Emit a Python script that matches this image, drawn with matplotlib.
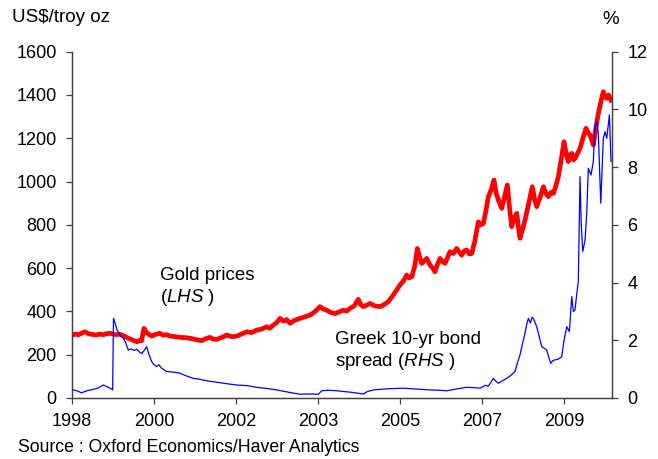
import matplotlib
matplotlib.use("Agg")
import matplotlib.pyplot as plt

plt.rcParams["font.family"] = ["Liberation Sans", "DejaVu Sans"]
plt.rcParams["mathtext.fontset"] = "custom"
plt.rcParams["mathtext.rm"] = "Liberation Sans"
plt.rcParams["mathtext.it"] = "Liberation Sans:italic"

# x positions are in tick units (0 = first labelled tick, 1 = next, ...)
tick_labels = ["1998", "2000", "2002", "2003", "2005", "2007", "2009"]

# Gold price, US$/troy oz (left axis)
gold_x = [0.000, 0.040, 0.080, 0.120, 0.159, 0.200, 0.240, 0.301, 0.340, 0.380,
          0.420, 0.463, 0.520, 0.585, 0.630, 0.687, 0.740, 0.789, 0.830, 0.850,
          0.866, 0.878, 0.900, 0.918, 0.945, 0.972, 1.020, 1.073, 1.110, 1.150,
          1.195, 1.250, 1.317, 1.380, 1.439, 1.510, 1.582, 1.630, 1.683, 1.720,
          1.765, 1.830, 1.887, 1.950, 2.009, 2.070, 2.130, 2.190, 2.252, 2.310,
          2.374, 2.410, 2.455, 2.500, 2.537, 2.580, 2.620, 2.659, 2.720, 2.780,
          2.840, 2.902, 2.960, 3.024, 3.060, 3.106, 3.150, 3.207, 3.260, 3.309,
          3.350, 3.390, 3.440, 3.491, 3.520, 3.552, 3.600, 3.634, 3.690, 3.756,
          3.800, 3.857, 3.918, 3.960, 4.000, 4.040, 4.082, 4.110, 4.143, 4.180,
          4.211, 4.240, 4.265, 4.300, 4.326, 4.366, 4.400, 4.427, 4.460, 4.488,
          4.520, 4.549, 4.580, 4.610, 4.650, 4.691, 4.720, 4.752, 4.780, 4.813,
          4.845, 4.874, 4.910, 4.955, 4.985, 5.016, 5.045, 5.077, 5.110, 5.146,
          5.170, 5.199, 5.220, 5.240, 5.275, 5.309, 5.335, 5.362, 5.390, 5.423,
          5.443, 5.463, 5.495, 5.524, 5.570, 5.613, 5.640, 5.667, 5.710, 5.748,
          5.780, 5.809, 5.840, 5.870, 5.900, 5.930, 5.965, 6.000, 6.025, 6.052,
          6.075, 6.094, 6.115, 6.134, 6.165, 6.195, 6.230, 6.268, 6.295, 6.317,
          6.340, 6.357, 6.390, 6.418, 6.450, 6.479, 6.500, 6.521, 6.545, 6.573]
gold_y = [288, 296, 292, 300, 306, 297, 294, 291, 296, 292,
          297, 299, 293, 294, 288, 276, 268, 260, 266, 265,
          300, 322, 308, 299, 292, 286, 294, 299, 290, 293,
          286, 284, 280, 279, 276, 270, 265, 274, 280, 272,
          271, 280, 291, 283, 286, 296, 306, 302, 314, 318,
          329, 322, 337, 350, 368, 355, 362, 345, 360, 368,
          375, 383, 398, 422, 412, 406, 396, 390, 398, 406,
          402, 414, 425, 456, 432, 422, 430, 437, 426, 422,
          430, 445, 476, 500, 522, 540, 568, 555, 560, 610,
          691, 650, 622, 635, 645, 614, 600, 583, 620, 645,
          630, 622, 650, 676, 668, 691, 675, 660, 678, 684,
          665, 668, 720, 814, 800, 806, 860, 930, 960, 1007,
          950, 915, 895, 876, 930, 984, 880, 791, 830, 853,
          790, 738, 780, 822, 900, 976, 920, 884, 930, 976,
          945, 930, 950, 945, 980, 1022, 1100, 1184, 1130, 1092,
          1125, 1130, 1100, 1107, 1130, 1153, 1200, 1246, 1225, 1215,
          1190, 1169, 1250, 1315, 1370, 1415, 1395, 1384, 1400, 1376]

# Greek 10-yr bond spread, % (right axis)
spread_x = [0.000, 0.016, 0.060, 0.118, 0.180, 0.260, 0.320, 0.382, 0.420, 0.460,
            0.496, 0.506, 0.530, 0.550, 0.565, 0.590, 0.626, 0.650, 0.687, 0.720,
            0.760, 0.789, 0.820, 0.850, 0.880, 0.911, 0.940, 0.972, 1.000, 1.033,
            1.060, 1.094, 1.120, 1.155, 1.230, 1.317, 1.400, 1.479, 1.540, 1.601,
            1.700, 1.805, 1.900, 2.009, 2.130, 2.252, 2.380, 2.496, 2.640, 2.780,
            2.900, 3.004, 3.045, 3.130, 3.228, 3.400, 3.552, 3.600, 3.674, 3.850,
            4.040, 4.200, 4.366, 4.470, 4.570, 4.700, 4.813, 4.900, 4.976, 5.040,
            5.077, 5.110, 5.138, 5.170, 5.199, 5.250, 5.301, 5.350, 5.402, 5.430,
            5.463, 5.495, 5.524, 5.545, 5.565, 5.590, 5.610, 5.626, 5.667, 5.700,
            5.728, 5.760, 5.789, 5.815, 5.838, 5.865, 5.890, 5.930, 5.972, 6.000,
            6.033, 6.065, 6.094, 6.114, 6.134, 6.155, 6.174, 6.195, 6.210, 6.228,
            6.256, 6.277, 6.296, 6.329, 6.357, 6.378, 6.399, 6.418, 6.448, 6.479,
            6.500, 6.521, 6.553, 6.573]
spread_y = [0.30, 0.28, 0.25, 0.18, 0.25, 0.30, 0.35, 0.45, 0.40, 0.35,
            0.28, 2.76, 2.55, 2.35, 2.30, 2.15, 2.07, 1.95, 1.66, 1.70,
            1.65, 1.69, 1.60, 1.54, 1.65, 1.78, 1.50, 1.26, 1.15, 1.09,
            1.15, 1.03, 0.98, 0.92, 0.90, 0.86, 0.76, 0.68, 0.66, 0.62,
            0.57, 0.53, 0.49, 0.45, 0.43, 0.37, 0.33, 0.28, 0.20, 0.13,
            0.14, 0.13, 0.25, 0.27, 0.25, 0.20, 0.14, 0.22, 0.28, 0.32,
            0.34, 0.31, 0.28, 0.27, 0.25, 0.32, 0.37, 0.36, 0.34, 0.44,
            0.41, 0.55, 0.68, 0.58, 0.51, 0.60, 0.68, 0.78, 0.92, 1.20,
            1.49, 1.90, 2.24, 2.55, 2.76, 2.60, 2.80, 2.76, 2.47, 2.10,
            1.78, 1.72, 1.66, 1.40, 1.20, 1.30, 1.32, 1.35, 1.43, 2.00,
            2.47, 2.30, 3.51, 3.00, 3.05, 3.60, 4.03, 7.67, 6.00, 5.07,
            5.47, 6.40, 7.96, 7.73, 8.19, 9.46, 9.57, 9.17, 6.75, 9.00,
            9.23, 9.00, 9.81, 8.19]

fig = plt.figure(figsize=(6.58, 4.59), dpi=100)
ax = fig.add_axes([0.1094, 0.1329, 0.8207, 0.7545])
ax2 = ax.twinx()

ax.plot(gold_x, gold_y, color="#ff0000", lw=3.4, zorder=3)
ax2.plot(spread_x, spread_y, color="#0000ff", lw=0.9, zorder=2)

ax.set_xlim(0, 6.585)
ax.set_ylim(0, 1600)
ax2.set_ylim(0, 12)
ax.set_xticks(range(len(tick_labels)))
ax.set_xticklabels(tick_labels)
ax.set_yticks(range(0, 1601, 200))
ax2.set_yticks(range(0, 13, 2))

for a in (ax, ax2):
    a.spines["top"].set_visible(False)
    for s in a.spines.values():
        s.set_color("#404040")
        s.set_linewidth(0.9)
    a.tick_params(direction="out", length=4, width=0.9, color="#404040",
                  labelsize=13, pad=7)

ax2.patch.set_visible(False)

fig.text(0.018, 0.961, "US$/troy oz", fontsize=13.5, va="center", ha="left")
fig.text(0.9286, 0.957, "%", fontsize=13.5, va="center", ha="center")
fig.text(0.028, 0.024, "Source : Oxford Economics/Haver Analytics",
         fontsize=12.7, va="center", ha="left")

ax.text(0.163, 0.355, "Gold prices", transform=ax.transAxes,
        fontsize=13.5, va="center", ha="left")
ax.text(0.163, 0.289, "($\\mathit{LHS}$ )", transform=ax.transAxes,
        fontsize=13.5, va="center", ha="left")
ax.text(0.487, 0.170, "Greek 10-yr bond", transform=ax.transAxes,
        fontsize=13.5, va="center", ha="left")
ax.text(0.487, 0.104, "spread ($\\mathit{RHS}$ )", transform=ax.transAxes,
        fontsize=13.5, va="center", ha="left")

fig.savefig("out.png", dpi=100)
